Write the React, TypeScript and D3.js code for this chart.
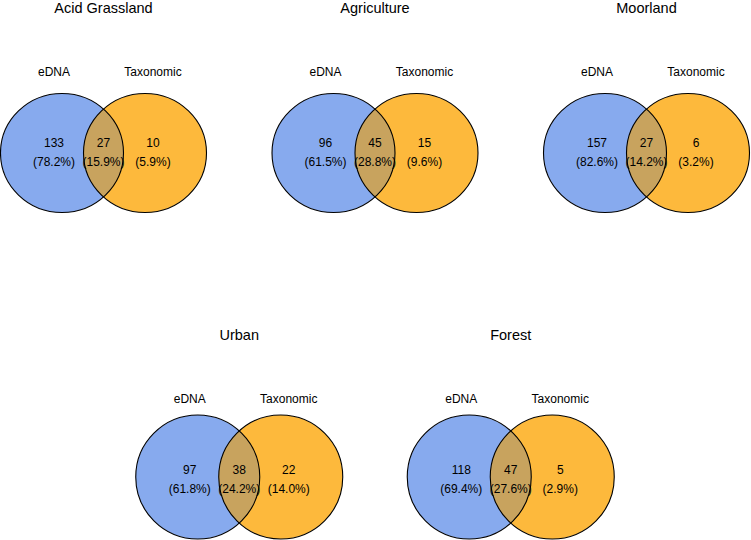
import React from "react";
import * as d3 from "d3";

const habitats = ["Acid Grassland", "Agriculture", "Moorland", "Urban", "Forest"];
const ednaOnly = [133, 96, 157, 97, 118];
const shared = [27, 45, 27, 38, 47];
const taxOnly = [10, 15, 6, 22, 5];
const setLabels = ["eDNA", "Taxonomic"];
// grid placement (column index, row index)
const panelCol = [0, 1, 2, 0.5, 1.5];
const panelRow = [0, 0, 0, 1, 1];

const W = 751;
const H = 540;
const FONT = "'Liberation Sans', Arial, Helvetica, sans-serif";
const BLUE = "#87AAEE";
const ORANGE = "#FDB93C";
const LENS = "#C8A35E";

const xCol = d3.scaleLinear().domain([0, 2]).range([103.5, 646.5]);
const yRow = d3.scaleLinear().domain([0, 1]).range([0, 327]);
// circle geometry per row
const circleY = [153, 477];
const circleRx = [61.5, 62];
const circleRy = [59.5, 62];

const fmt = (v: number, tot: number) => `(${((v / tot) * 100).toFixed(1)}%)`;

export default function App() {
  return (
    <svg
      width={W}
      height={H}
      style={{ position: "absolute", left: 0, top: 0, background: "#fff" }}
      fontFamily={FONT}
    >
      {habitats.map((h, i) => {
        const cx = xCol(panelCol[i]);
        const r = panelRow[i];
        const oy = yRow(r);
        const cy = circleY[r];
        const rx = circleRx[r];
        const ry = circleRy[r];
        const d = 41.5;
        const total = ednaOnly[i] + shared[i] + taxOnly[i];
        const clipId = `clip-left-${i}`;
        const off = 49.5;
        return (
          <g key={h}>
            <defs>
              <clipPath id={clipId}>
                <ellipse cx={cx - d} cy={cy} rx={rx} ry={ry} />
              </clipPath>
            </defs>
            <text x={cx} y={oy + 12.5} textAnchor="middle" fontSize={14.5} fill="#000">
              {h}
            </text>
            <text x={cx - off} y={oy + 76} textAnchor="middle" fontSize={12} fill="#000">
              {setLabels[0]}
            </text>
            <text x={cx + off} y={oy + 76} textAnchor="middle" fontSize={12} fill="#000">
              {setLabels[1]}
            </text>
            <ellipse cx={cx - d} cy={cy} rx={rx} ry={ry} fill={BLUE} />
            <ellipse cx={cx + d} cy={cy} rx={rx} ry={ry} fill={ORANGE} />
            <ellipse cx={cx + d} cy={cy} rx={rx} ry={ry} fill={LENS} clipPath={`url(#${clipId})`} />
            <ellipse cx={cx - d} cy={cy} rx={rx} ry={ry} fill="none" stroke="#000" strokeWidth={1.1} />
            <ellipse cx={cx + d} cy={cy} rx={rx} ry={ry} fill="none" stroke="#000" strokeWidth={1.1} />
            {[
              [cx - off, ednaOnly[i]],
              [cx, shared[i]],
              [cx + off, taxOnly[i]],
            ].map(([x, v], k) => (
              <g key={k}>
                <text x={x} y={oy + 146.5} textAnchor="middle" fontSize={12} fill="#000">
                  {v}
                </text>
                <text x={x} y={oy + 165.5} textAnchor="middle" fontSize={12} fill="#000">
                  {fmt(v, total)}
                </text>
              </g>
            ))}
          </g>
        );
      })}
    </svg>
  );
}
